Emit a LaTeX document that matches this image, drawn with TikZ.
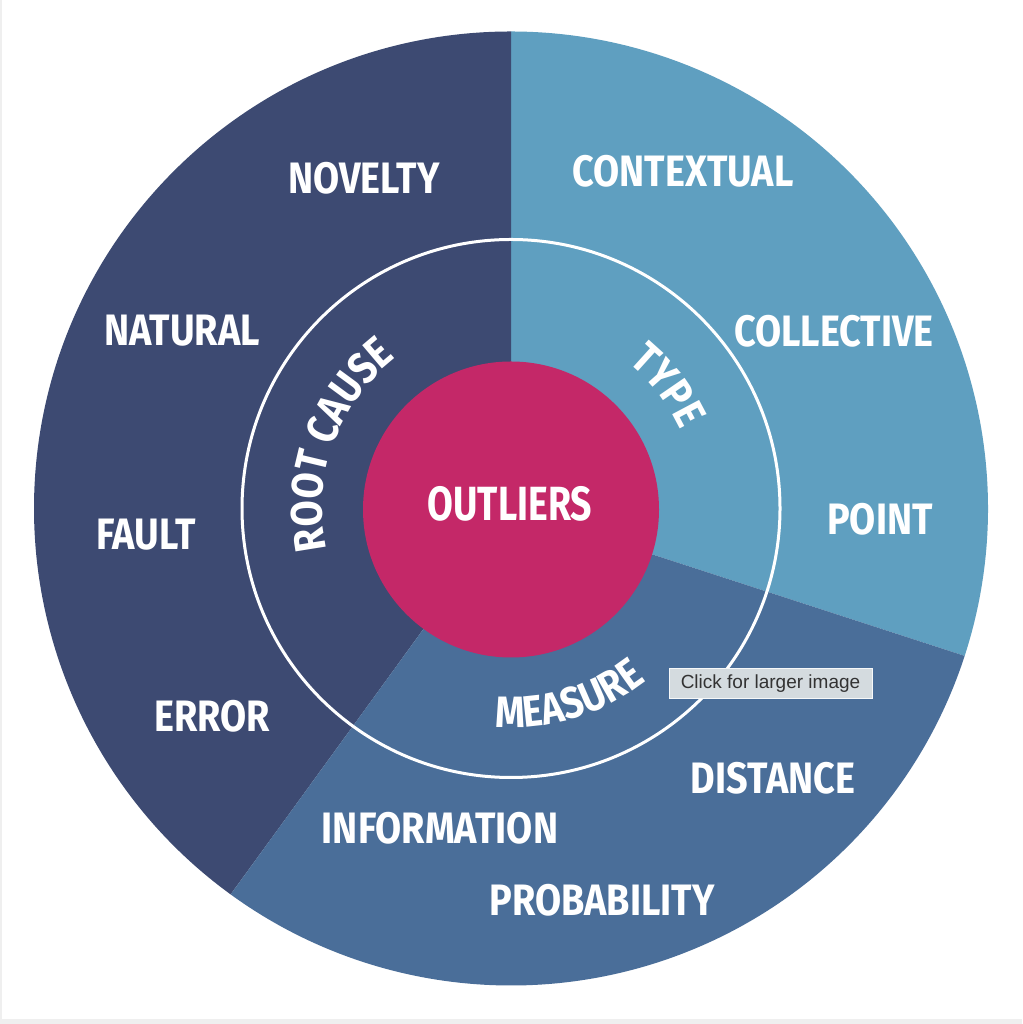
\documentclass[tikz,border=0pt]{standalone}
\usepackage{fontspec}
\usetikzlibrary{decorations.text}
\newfontfamily\lblfont[FakeStretch=0.86]{Fira Sans}
\newfontfamily\corefont[FakeStretch=0.78]{Fira Sans}
\newfontfamily\tipfont{Liberation Sans}
\newcommand\crvfont{\lblfont\bfseries\fontsize{44}{44}\selectfont}
\definecolor{navy}{HTML}{3D4A72}
\definecolor{skyb}{HTML}{5F9FC0}
\definecolor{midb}{HTML}{4A6E99}
\definecolor{magent}{HTML}{C42868}
\definecolor{tipbg}{HTML}{D4DBDF}
\definecolor{edgegray}{HTML}{EFEFEF}
\begin{document}
\begin{tikzpicture}[x=1pt,y=1pt,
  lbl/.style={text=white, font=\crvfont, inner sep=0pt},
  core/.style={text=white, font=\corefont\bfseries\fontsize{48}{48}\selectfont, inner sep=0pt},
  curved/.style={decorate, decoration={text along path, text={|\crvfont|#1}, text align=center, text color=white}},
  tipbox/.style={fill=tipbg, draw=white!80!tipbg, line width=1, minimum width=203, minimum height=30, inner sep=0pt,
    font=\tipfont\fontsize{19}{19}\selectfont, text=black!80}
 ]
\useasboundingbox (0,0) rectangle (1022,1024);
\fill[white] (0,0) rectangle (1022,1024);
\fill[edgegray] (0,0) rectangle (1022,5);
\fill[edgegray] (0,0) rectangle (1.5,1024);
\coordinate (C) at (511,515.5);
\fill[skyb] (C) -- ([shift={(-18:477)}]C) arc[start angle=-18,end angle=90,radius=477] -- cycle;
\fill[navy] (C) -- ([shift={(90:477)}]C) arc[start angle=90,end angle=234,radius=477] -- cycle;
\fill[midb] (C) -- ([shift={(234:477)}]C) arc[start angle=234,end angle=342,radius=477] -- cycle;
\draw[white, line width=3] (C) circle[radius=269];
\node[circle, fill=magent, minimum size=296, inner sep=0pt] (hub) at (511,514.5) {};
\node[core] (outliers) at (510,520) {OUTLIERS};
% curved ring labels
\path[curved=ROOT CAUSE] ([shift={(200:189)}]C) arc[start angle=200,end angle=120,radius=189];
\path[curved=TYPE] ([shift={(75:187)}]C) arc[start angle=75,end angle=1,radius=187];
\path[curved=MEASURE] ([shift={(245:219)}]C) arc[start angle=245,end angle=329,radius=219];
% outer labels
\node[lbl] (novelty) at (364,846) {NOVELTY};
\node[lbl] (natural) at (182,693) {NATURAL};
\node[lbl] (fault) at (146,489) {FAULT};
\node[lbl] (error) at (212,308) {ERROR};
\node[lbl] (contextual) at (683,853) {CONTEXTUAL};
\node[lbl] (collective) at (834,693) {COLLECTIVE};
\node[lbl] (point) at (880,505) {POINT};
\node[lbl] (distance) at (773,246) {DISTANCE};
\node[lbl] (information) at (440,196) {INFORMATION};
\node[lbl] (probability) at (602,124) {PROBABILITY};
\node[tipbox] (tip) at (770.5,340) {Click for larger image};
\end{tikzpicture}
\end{document}
